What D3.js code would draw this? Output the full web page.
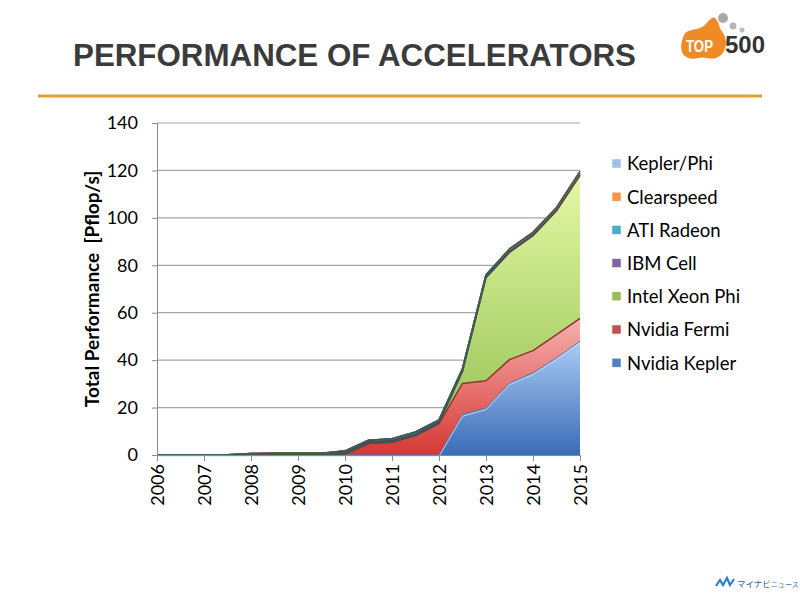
<!DOCTYPE html>
<html><head><meta charset="utf-8">
<script src="https://cdn.jsdelivr.net/npm/d3@7/dist/d3.min.js"></script>
<style>body{margin:0;background:#fff;}svg{display:block;}</style>
</head><body><svg id="c" width="800" height="593"></svg>
<script>
// ---- data ----
const years = [2006,2006.5,2007,2007.5,2008,2008.5,2009,2009.5,2010,2010.5,2011,2011.5,2012,2012.5,2013,2013.5,2014,2014.5,2015];
const yearLabels = [2006,2007,2008,2009,2010,2011,2012,2013,2014,2015];
const yTicks = [0,20,40,60,80,100,120,140];
const nvidiaKepler = [0,0,0,0,0,0,0,0,0,0,0,0,0,17.0,19.8,30.3,34.6,40.9,48.0];
const nvidiaFermi  = [0,0,0,0,0,0,0,0,0.4,4.8,5.4,8.2,13.2,13.2,11.5,9.9,9.4,9.9,9.6];
const intelXeonPhi = [0,0,0,0,0,0,0,0,0,0,0,0,0.2,5.0,43.5,45.2,48.5,52.2,60.3];
const ibmCell      = [0,0,0,0.1,0.6,0.7,0.7,0.7,0.8,0.8,0.7,0.6,0.5,0.4,0.3,0.3,0.2,0.1,0.1];
const atiRadeon    = [0,0,0,0,0,0,0,0,0.5,0.6,0.8,0.9,0.9,0.9,0.9,0.9,0.8,0.8,0.8];
const clearspeed   = [0.05,0.05,0.05,0.05,0.05,0.05,0.05,0.05,0.05,0.05,0,0,0,0,0,0,0,0,0];
const keplerPhi    = [0,0,0,0,0,0,0,0,0,0,0,0,0,0,0,0.4,0.5,0.6,0.9];
const seriesNames = ["Nvidia Kepler","Nvidia Fermi","Intel Xeon Phi","IBM Cell","ATI Radeon","Clearspeed","Kepler/Phi"];
const seriesData = [nvidiaKepler,nvidiaFermi,intelXeonPhi,ibmCell,atiRadeon,clearspeed,keplerPhi];
const legendOrder = ["Kepler/Phi","Clearspeed","ATI Radeon","IBM Cell","Intel Xeon Phi","Nvidia Fermi","Nvidia Kepler"];

// ---- styles ----
const style = {
  "Nvidia Kepler": {top:"#aacbf4", bot:"#3a6cb6", stroke:"#4a76b0", sw:"#4f81bd"},
  "Nvidia Fermi":  {top:"#f6b0ae", bot:"#d63834", stroke:"#8e3331", sw:"#c0504d"},
  "Intel Xeon Phi":{top:"#e4f7a4", bot:"#8fbf4e", stroke:"#35603e", sw:"#9bbb59"},
  "IBM Cell":      {top:"#a58bc6", bot:"#6f5296", stroke:"#4f3d6e", sw:"#8064a2"},
  "ATI Radeon":    {top:"#6fc3d8", bot:"#3a9ab3", stroke:"#2f5f5a", sw:"#4bacc6"},
  "Clearspeed":    {top:"#fab27a", bot:"#e07e30", stroke:"#9a5a20", sw:"#f79646"},
  "Kepler/Phi":    {top:"#c6dcf4", bot:"#8fb4e0", stroke:"#2f5f55", sw:"#9dc3e6"}
};

const svg = d3.select("#c");
const defs = svg.append("defs");

// title
svg.append("text").attr("x",73).attr("y",66)
  .attr("font-family","Liberation Sans, Arial, sans-serif").attr("font-weight","bold")
  .attr("font-size",31).attr("fill","#3b3b3b")
  .attr("textLength",563).attr("lengthAdjust","spacingAndGlyphs")
  .text("PERFORMANCE OF ACCELERATORS");
svg.append("rect").attr("x",38).attr("y",94.5).attr("width",724).attr("height",3).attr("fill","#e2a136");

// TOP500 logo
const logo = svg.append("g");
logo.append("path").attr("d","M684,35 C686,30 694,30 700,28 C706,26 708,20 712,18 C716,16 718,22 720,28 C722,32 726,36 726,42 C726,50 722,56 716,58 C710,60 704,56 698,58 C692,60 684,58 682,52 C680,46 682,40 684,35 Z")
  .attr("fill","#f08a24");
logo.append("circle").attr("cx",723).attr("cy",18).attr("r",5).attr("fill","#a9a9a9");
logo.append("circle").attr("cx",733).attr("cy",26).attr("r",3.4).attr("fill","#b4b4b4");
logo.append("circle").attr("cx",742).attr("cy",30).attr("r",2.5).attr("fill","#bdbdbd");
logo.append("text").attr("x",686).attr("y",52).attr("font-family","Liberation Sans, Arial, sans-serif")
  .attr("font-weight","bold").attr("font-size",16).attr("fill","#fff").attr("textLength",27).attr("lengthAdjust","spacingAndGlyphs").text("TOP");
logo.append("text").attr("x",725).attr("y",53).attr("font-family","Liberation Sans, Arial, sans-serif")
  .attr("font-weight","bold").attr("font-size",23).attr("fill","#333").attr("textLength",40).attr("lengthAdjust","spacingAndGlyphs").text("500");

// Mynavi logo
svg.append("path").attr("d","M716,586 L720,580 L723,585 L727,578 L730,585 L734,579")
  .attr("fill","none").attr("stroke","#2a7fd0").attr("stroke-width",2.2);
svg.append("text").attr("x",737).attr("y",587).attr("font-family","Noto Sans CJK JP").attr("font-size",8.5)
  .attr("fill","#2a5ea8").text("マイナビ");
svg.append("text").attr("x",771).attr("y",587).attr("font-family","Noto Sans CJK JP").attr("font-size",7)
  .attr("fill","#3a7ac0").text("ニュース");

// scales
const x = d3.scaleLinear().domain([2006,2015]).range([157,580]);
const y = d3.scaleLinear().domain([0,140]).range([455,123]);

const font = "Lato, 'Open Sans', sans-serif";

// gridlines
svg.append("g").selectAll("line").data(yTicks.filter(d=>d>0)).join("line")
  .attr("x1",157).attr("x2",580).attr("y1",d=>y(d)).attr("y2",d=>y(d))
  .attr("stroke","#a6a6a6").attr("stroke-width",1.2);

// stacked areas
const rows = years.map((yr,i)=>{const r={year:yr}; seriesNames.forEach((n,k)=>r[n]=seriesData[k][i]); return r;});
const stack = d3.stack().keys(seriesNames)(rows);
seriesNames.forEach((n,i)=>{
  const g = defs.append("linearGradient").attr("id","g"+i).attr("x1",0).attr("y1",0).attr("x2",0).attr("y2",1);
  g.append("stop").attr("offset","0%").attr("stop-color",style[n].top);
  g.append("stop").attr("offset","100%").attr("stop-color",style[n].bot);
});
const area = d3.area().x(d=>x(d.data.year)).y0(d=>y(d[0])).y1(d=>y(d[1]));
const topLine = d3.line().x(d=>x(d.data.year)).y(d=>y(d[1]));
svg.append("g").selectAll("path").data(stack).join("path")
  .attr("d",area).attr("fill",(d,i)=>`url(#g${i})`).attr("stroke","none");
svg.append("g").selectAll("path").data(stack).join("path")
  .attr("d",d=>topLine(d))
  .attr("fill","none").attr("stroke",(d)=>style[d.key].stroke)
  .attr("stroke-width",(d)=> (d.key==="Nvidia Kepler")?1:1.5)
  .attr("stroke-linejoin","round");
// highlight on blue top
svg.append("path").datum(stack[0]).attr("d",d3.line().x(d=>x(d.data.year)).y(d=>y(d[1])+1.5))
  .attr("fill","none").attr("stroke","#d8e8fb").attr("stroke-width",1).attr("opacity",0.8);

// axes
const yAxis = d3.axisLeft(y).tickValues(yTicks).tickSize(5).tickPadding(8);
const gy = svg.append("g").attr("transform","translate(157,0)").call(yAxis);
gy.select(".domain").attr("stroke","#8c8c8c");
gy.selectAll(".tick line").attr("stroke","#8c8c8c");
gy.selectAll("text").attr("font-family",font).attr("font-size",18).attr("fill","#000").attr("dx",-6);

const xAxis = d3.axisBottom(x).tickValues(yearLabels).tickFormat(d3.format("d")).tickSize(6).tickPadding(4);
const gx = svg.append("g").attr("transform","translate(0,455)").call(xAxis);
gx.select(".domain").attr("stroke","#8c8c8c");
gx.selectAll(".tick line").attr("stroke","#8c8c8c");
gx.selectAll("text").attr("font-family",font).attr("font-size",18).attr("fill","#000")
  .attr("transform","rotate(-90)").attr("text-anchor","end").attr("x",-9).attr("y",0).attr("dy","0.35em");

// y title
svg.append("text").attr("transform","translate(99,289) rotate(-90)").attr("text-anchor","middle")
  .attr("font-family",font).attr("font-weight","bold").attr("font-size",19).attr("fill","#000")
  .attr("xml:space","preserve").style("white-space","pre")
  .text("Total Performance  [Pflop/s]");

// legend
const lg = svg.append("g");
legendOrder.forEach((n,i)=>{
  const yy = 164 + i*33.2;
  lg.append("rect").attr("x",612).attr("y",yy-5).attr("width",9).attr("height",9)
    .attr("fill",style[n].sw).attr("stroke","#fff").attr("stroke-width",0.5);
  lg.append("text").attr("x",627).attr("y",yy).attr("dy","0.35em").attr("font-family",font)
    .attr("font-size",18.5).attr("fill","#000").text(n);
});
</script></body></html>
